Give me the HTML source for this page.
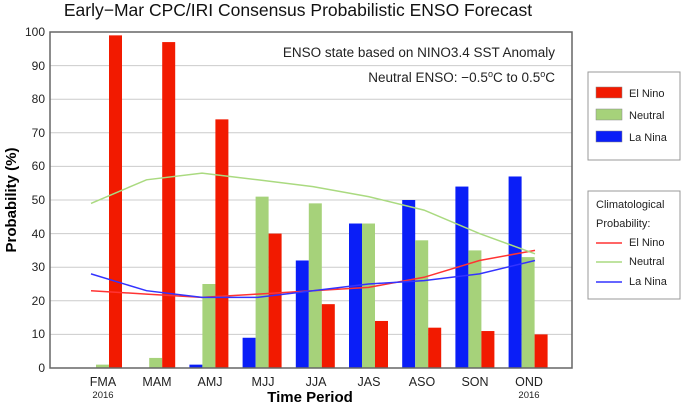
<!DOCTYPE html>
<html><head><style>body{margin:0;background:#fff}svg{display:block;font-family:"Liberation Sans",sans-serif}</style></head><body>
<svg width="681" height="405" xmlns="http://www.w3.org/2000/svg">
<rect width="681" height="405" fill="#fff"/>
<text x="298" y="16" font-size="17.5" text-anchor="middle" fill="#111">Early−Mar CPC/IRI Consensus Probabilistic ENSO Forecast</text>
<g stroke="#ccc" stroke-width="1">
<line x1="50" x2="572" y1="334.4" y2="334.4"/><line x1="50" x2="572" y1="300.8" y2="300.8"/><line x1="50" x2="572" y1="267.2" y2="267.2"/><line x1="50" x2="572" y1="233.6" y2="233.6"/><line x1="50" x2="572" y1="200" y2="200"/><line x1="50" x2="572" y1="166.4" y2="166.4"/><line x1="50" x2="572" y1="132.8" y2="132.8"/><line x1="50" x2="572" y1="99.2" y2="99.2"/><line x1="50" x2="572" y1="65.6" y2="65.6"/>
</g>
<g font-size="12" text-anchor="end" fill="#222">
<text x="45" y="372">0</text><text x="45" y="338">10</text><text x="45" y="305">20</text><text x="45" y="271">30</text><text x="45" y="238">40</text><text x="45" y="204">50</text><text x="45" y="170">60</text><text x="45" y="137">70</text><text x="45" y="103">80</text><text x="45" y="70">90</text><text x="45" y="36">100</text>
</g>
<text x="555" y="57" font-size="13.5" text-anchor="end" fill="#222">ENSO state based on NINO3.4 SST Anomaly</text>
<text x="555" y="82" font-size="13.5" text-anchor="end" fill="#222">Neutral ENSO: −0.5<tspan dy="-5" font-size="9">o</tspan><tspan dy="5">C to 0.5</tspan><tspan dy="-5" font-size="9">o</tspan><tspan dy="5">C</tspan></text>
<g id="bars"></g>
<g fill="none" stroke-width="1.5">
<polyline stroke="#f33" points="91,290.7 146.5,294.1 202,297.4 257.5,294.1 313,290.7 368.5,287.4 424,277.3 479.5,260.5 535,250.4"/>
<polyline stroke="#aada80" points="91,203.4 146.5,179.8 202,173.1 257.5,179.8 313,186.6 368.5,196.6 424,210.1 479.5,233.6 535,253.8"/>
<polyline stroke="#33f" points="91,273.9 146.5,290.7 202,297.4 257.5,297.4 313,290.7 368.5,284 424,280.6 479.5,273.9 535,260.5"/>
</g>
<rect x="50" y="32" width="522" height="336" fill="none" stroke="#666" stroke-width="1.5"/>
<g font-size="12.5" text-anchor="middle" fill="#222">
<text x="103" y="386">FMA</text><text x="157" y="386">MAM</text><text x="210" y="386">AMJ</text><text x="263" y="386">MJJ</text><text x="316" y="386">JJA</text><text x="369" y="386">JAS</text><text x="422" y="386">ASO</text><text x="475" y="386">SON</text><text x="529" y="386">OND</text>
<text x="103" y="398" font-size="9.5">2016</text><text x="529" y="398" font-size="9.5">2016</text>
</g>
<text x="310" y="402" font-size="15" font-weight="bold" text-anchor="middle">Time Period</text>
<text transform="translate(16,200) rotate(-90)" font-size="15" font-weight="bold" text-anchor="middle">Probability (%)</text>
<rect x="588" y="72" width="92" height="88" fill="#fff" stroke="#999"/>
<rect x="596" y="87" width="26" height="11" fill="#f21a00" stroke="#888" stroke-width=".5"/>
<rect x="596" y="109" width="26" height="11" fill="#a6d27a" stroke="#888" stroke-width=".5"/>
<rect x="596" y="131" width="26" height="11" fill="#0a1ef7" stroke="#888" stroke-width=".5"/>
<g font-size="11" fill="#222"><text x="629" y="97">El Nino</text><text x="629" y="119">Neutral</text><text x="629" y="141">La Nina</text></g>
<rect x="588" y="191" width="92" height="108" fill="#fff" stroke="#999"/>
<g font-size="11" fill="#222"><text x="596" y="208">Climatological</text><text x="596" y="227">Probability:</text>
<text x="629" y="246">El Nino</text><text x="629" y="265">Neutral</text><text x="629" y="285">La Nina</text></g>
<line x1="596" x2="622" y1="243" y2="243" stroke="#f33" stroke-width="1.5"/>
<line x1="596" x2="622" y1="262" y2="262" stroke="#aada80" stroke-width="1.5"/>
<line x1="596" x2="622" y1="282" y2="282" stroke="#33f" stroke-width="1.5"/>
<script>
var ns="http://www.w3.org/2000/svg",b=document.getElementById("bars");
var E=[99,97,74,40,19,14,12,11,10],N=[1,3,25,51,49,43,38,35,33],L=[0,0,1,9,32,43,50,54,57];
function r(x,v,c){if(!v)return;var e=document.createElementNS(ns,"rect");e.setAttribute("x",x);e.setAttribute("y",368-v*3.36);e.setAttribute("width",13);e.setAttribute("height",v*3.36);e.setAttribute("fill",c);b.appendChild(e);}
for(var i=0;i<9;i++){var x=83+53.2*i;r(x,L[i],"#0a1ef7");r(x+13,N[i],"#a6d27a");r(x+26,E[i],"#f21a00");}
</script>
</svg>
</body></html>
